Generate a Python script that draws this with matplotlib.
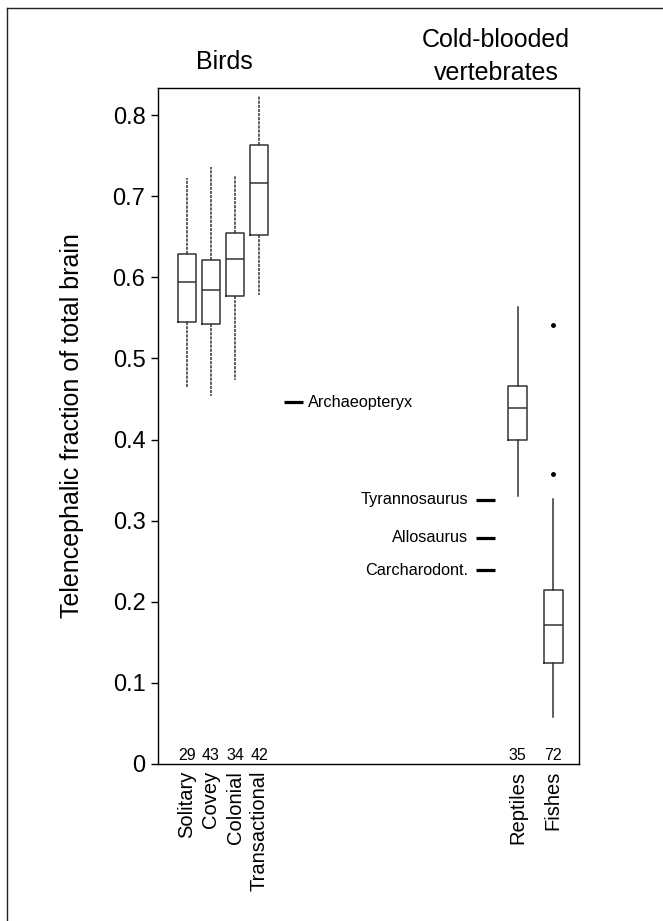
import matplotlib
matplotlib.use("Agg")
import matplotlib.pyplot as plt
from matplotlib.lines import Line2D

plt.rcParams['font.family'] = ['Liberation Sans', 'DejaVu Sans']

# group names and sample sizes
groups = ["Solitary", "Covey", "Colonial", "Transactional", "Reptiles", "Fishes"]
counts = [29, 43, 34, 42, 35, 72]

# box statistics
whis_hi = [0.723, 0.736, 0.725, 0.824, 0.563, 0.327]
q3 = [0.629, 0.621, 0.655, 0.763, 0.466, 0.215]
medians = [0.594, 0.584, 0.622, 0.716, 0.439, 0.171]
q1 = [0.545, 0.543, 0.577, 0.652, 0.400, 0.124]
whis_lo = [0.465, 0.454, 0.473, 0.578, 0.330, 0.058]
outliers = [[], [], [], [], [], [0.541, 0.357]]

# single-specimen values for extinct taxa
fossil_names = ["Archaeopteryx", "Tyrannosaurus", "Allosaurus", "Carcharodont."]
fossil_values = [0.446, 0.3255, 0.279, 0.239]

positions = [1, 2, 3, 4, 14.77, 16.25]
fossil_x = [5.44, 13.45, 13.45, 13.45]

fig = plt.figure(figsize=(6.63, 9.21), dpi=100)
ax = fig.add_axes([0.2383, 0.1705, 0.635, 0.734])

stats = []
for i in range(len(groups)):
    stats.append(dict(med=medians[i], q1=q1[i], q3=q3[i],
                      whislo=whis_lo[i], whishi=whis_hi[i],
                      fliers=outliers[i], label=groups[i]))

line_col = "#333333"
# birds: dashed whiskers
ax.bxp(stats[:4], positions=positions[:4], widths=0.79, showcaps=False,
       boxprops=dict(color=line_col, linewidth=1.1),
       medianprops=dict(color=line_col, linewidth=1.1),
       whiskerprops=dict(color=line_col, linewidth=1.1, linestyle=(0, (2, 0.7))),
       flierprops=dict(marker='o', markersize=2.5, markerfacecolor='black',
                       markeredgecolor='black'))
# cold-blooded: solid whiskers
ax.bxp(stats[4:], positions=positions[4:], widths=0.79, showcaps=False,
       boxprops=dict(color=line_col, linewidth=1.1),
       medianprops=dict(color=line_col, linewidth=1.1),
       whiskerprops=dict(color=line_col, linewidth=1.1),
       flierprops=dict(marker='o', markersize=2.5, markerfacecolor='black',
                       markeredgecolor='black'))

# fossil markers
for i, (name, val) in enumerate(zip(fossil_names, fossil_values)):
    ax.plot([fossil_x[i] - 0.4, fossil_x[i] + 0.4], [val, val],
            color='black', linewidth=2.3, solid_capstyle='butt')
    if i == 0:
        ax.text(fossil_x[i] + 0.6, val, name, ha='left', va='center', fontsize=11.7)
    else:
        ax.text(fossil_x[i] - 0.74, val, name, ha='right', va='center', fontsize=11.7)

# sample sizes along the bottom
for p, n in zip(positions, counts):
    ax.text(p, 0.011, str(n), ha='center', va='center', fontsize=11.5)

ax.set_xlim(-0.208, 17.33)
ax.set_ylim(0, 0.8335)
ax.set_yticks([0, 0.1, 0.2, 0.3, 0.4, 0.5, 0.6, 0.7, 0.8])
ax.set_yticklabels(["0", "0.1", "0.2", "0.3", "0.4", "0.5", "0.6", "0.7", "0.8"])
ax.tick_params(axis='y', labelsize=17, length=5, width=1.0, pad=4)
ax.set_xticks(positions)
ax.set_xticklabels(groups, rotation=90, fontsize=14.5)
ax.tick_params(axis='x', length=0, pad=5)
ax.set_ylabel("Telencephalic fraction of total brain", fontsize=18)
ax.yaxis.set_label_coords(-0.176, 0.5)
for s in ax.spines.values():
    s.set_linewidth(1.0)

fig.text(0.338, 0.933, "Birds", ha='center', va='center', fontsize=18)
fig.text(0.748, 0.9387, "Cold-blooded\nvertebrates", ha='center', va='center',
         fontsize=18, linespacing=1.45)

# outer frame (top and left edges only)
fig.add_artist(Line2D([0.0106, 1.0], [0.9913, 0.9913], transform=fig.transFigure,
                      color='#222222', linewidth=1.0))
fig.add_artist(Line2D([0.0106, 0.0106], [0.0, 0.9913], transform=fig.transFigure,
                      color='#222222', linewidth=1.0))

fig.savefig("out.png", dpi=100)
